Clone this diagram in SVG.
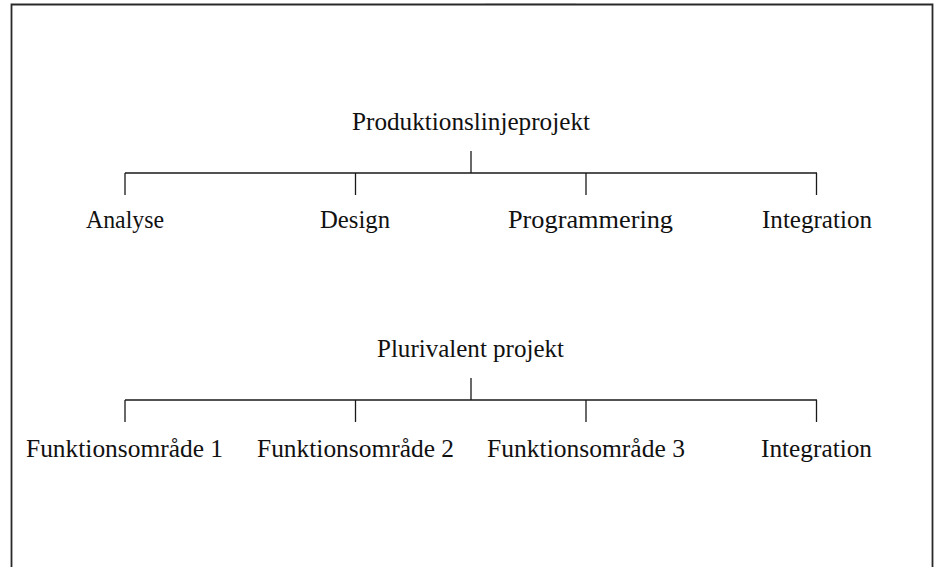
<svg xmlns="http://www.w3.org/2000/svg" width="936" height="567" viewBox="0 0 936 567">
<style>
.frame{fill:none;stroke:#2a2a2a;stroke-width:1.8}
.ln{fill:none;stroke:#1a1a1a;stroke-width:1.3}
text{font-family:"Liberation Serif","Times New Roman",serif;font-size:25px;fill:#111;text-anchor:middle}
</style>
<rect width="936" height="567" fill="#fff"/>
<path class="frame" d="M11.5,567 V4.5 H932.5 V567"/>
<line x1="485" y1="3.5" x2="576" y2="3.5" stroke="#888" stroke-width="1"/>
<g id="connectors">
<path class="ln" d="M471,151 V173 M125,173 H817 M125,173 V195 M355.5,173 V195 M586,173 V195 M816.5,173 V195"/>
<path class="ln" d="M471,378 V400 M125,400 H817 M125,400 V422 M355.5,400 V422 M586,400 V422 M816.5,400 V422"/>
</g>
<g id="n-produktion"><text x="471" y="130" textLength="238" lengthAdjust="spacingAndGlyphs">Produktionslinjeprojekt</text></g>
<g id="n-analyse"><text x="125" y="228" textLength="78" lengthAdjust="spacingAndGlyphs">Analyse</text></g>
<g id="n-design"><text x="355" y="228" textLength="70" lengthAdjust="spacingAndGlyphs">Design</text></g>
<g id="n-programmering"><text x="590.5" y="228" textLength="165" lengthAdjust="spacingAndGlyphs">Programmering</text></g>
<g id="n-integration1"><text x="817" y="228" textLength="110" lengthAdjust="spacingAndGlyphs">Integration</text></g>
<g id="n-plurivalent"><text x="470.5" y="357" textLength="187" lengthAdjust="spacingAndGlyphs">Plurivalent projekt</text></g>
<g id="n-f1"><text x="124.5" y="457" textLength="197" lengthAdjust="spacingAndGlyphs">Funktionsområde 1</text></g>
<g id="n-f2"><text x="355.5" y="457" textLength="197" lengthAdjust="spacingAndGlyphs">Funktionsområde 2</text></g>
<g id="n-f3"><text x="586" y="457" textLength="198" lengthAdjust="spacingAndGlyphs">Funktionsområde 3</text></g>
<g id="n-integration2"><text x="816.5" y="457" textLength="111" lengthAdjust="spacingAndGlyphs">Integration</text></g>
</svg>
